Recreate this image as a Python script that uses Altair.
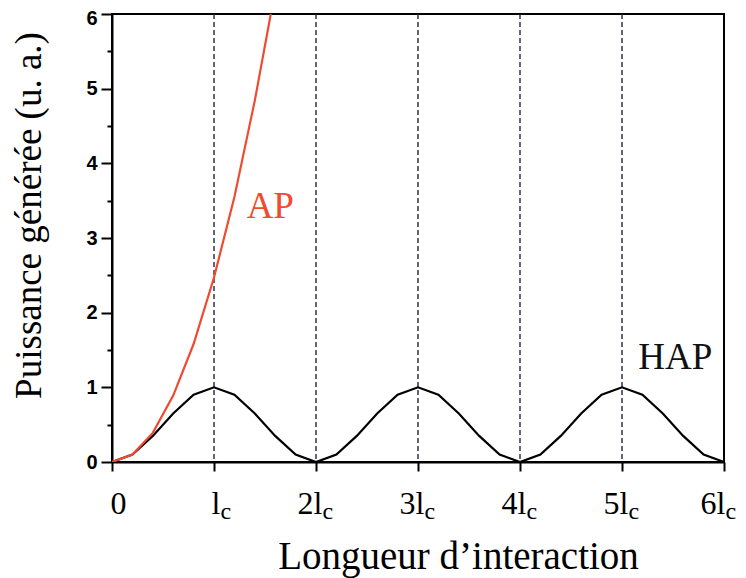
import altair as alt
import pandas as pd

# ---- data ----
hap_x = [0.0, 0.2, 0.4, 0.6, 0.8, 1.0, 1.2, 1.4, 1.6, 1.8, 2.0,
         2.2, 2.4, 2.6, 2.8, 3.0, 3.2, 3.4, 3.6, 3.8, 4.0,
         4.2, 4.4, 4.6, 4.8, 5.0, 5.2, 5.4, 5.6, 5.8, 6.0]
hap_y = [0.0, 0.1, 0.35, 0.65, 0.9, 1.0, 0.9, 0.65, 0.35, 0.1, 0.0,
         0.1, 0.35, 0.65, 0.9, 1.0, 0.9, 0.65, 0.35, 0.1, 0.0,
         0.1, 0.35, 0.65, 0.9, 1.0, 0.9, 0.65, 0.35, 0.1, 0.0]

ap_x = [0.0, 0.2, 0.4, 0.6, 0.8, 1.0, 1.2, 1.4, 1.6]
ap_y = [0.0, 0.1, 0.39, 0.89, 1.58, 2.47, 3.55, 4.84, 6.32]

coherence_x = [1, 2, 3, 4, 5]

x_tick_values = [0, 1, 2, 3, 4, 5, 6]
x_main_labels = ["0", "l", "2l", "3l", "4l", "5l", "6l"]
x_sub_labels = ["", "c", "c", "c", "c", "c", "c"]
y_major = [0, 1, 2, 3, 4, 5, 6]
y_major_labels = ["0", "1", "2", "3", "4", "5", "6"]
y_minor = [0.5, 1.5, 2.5, 3.5, 4.5, 5.5]

note_text = ["AP", "HAP"]
note_x = [1.32, 5.16]
note_y = [3.27, 1.245]
note_color = ["#f04a30", "#111111"]

RED = "#f04a30"
SERIF = "Liberation Serif"

df_hap = pd.DataFrame({"x": hap_x, "y": hap_y})
df_ap = pd.DataFrame({"x": ap_x, "y": ap_y})
df_rules = pd.DataFrame({"x": coherence_x})
df_notes = pd.DataFrame({"x": note_x, "y": note_y, "t": note_text, "c": note_color})


def arr_expr(labels):
    return "[" + ",".join("'" + s + "'" for s in labels) + "][round(datum.value)]"


def xs():
    return alt.Scale(domain=[0, 6], nice=False, zero=False)


def ys():
    return alt.Scale(domain=[0, 6], nice=False)


x_label_shift = alt.condition("datum.value == 6", alt.value(1), alt.value(6))

hap = alt.Chart(df_hap).mark_line(color="black", strokeWidth=2.2).encode(
    x=alt.X("x:Q", scale=xs(), axis=alt.Axis(
        orient="bottom", values=x_tick_values, labelExpr=arr_expr(x_main_labels),
        labelFont=SERIF, labelFontSize=32, labelColor="black",
        labelAlign=alt.condition("datum.value == 0", alt.value("center"), alt.value("right")),
        labelOffset=x_label_shift, labelBaseline="alphabetic", labelPadding=42,
        labelFlush=False, labelOverlap=False, labelBound=False,
        tickSize=9, tickWidth=2, tickColor="black",
        domainColor="black", domainWidth=2, grid=False,
        title="Longueur d’interaction", titleFont=SERIF, titleFontSize=39,
        titleFontWeight="normal", titleColor="black",
        titleX=346, titleY=106, titleBaseline="alphabetic")),
    y=alt.Y("y:Q", scale=ys(), axis=alt.Axis(
        orient="left", values=y_major, labelExpr=arr_expr(y_major_labels),
        labelFont="Liberation Sans", labelFontWeight="bold", labelFontSize=20,
        labelColor="black", labelPadding=4, labelFlush=False, labelBaseline="middle",
        labelOffset=alt.condition("datum.value == 6", alt.value(4), alt.value(0)),
        labelOverlap=False, labelBound=False,
        tickSize=11, tickWidth=2, tickColor="black",
        domainColor="black", domainWidth=2, grid=False,
        title="Puissance générée (u. a.)", titleFont=SERIF, titleFontSize=37,
        titleFontWeight="normal", titleColor="black",
        titleX=-72, titleY=201, titleBaseline="alphabetic")),
)

ap = alt.Chart(df_ap).mark_line(color=RED, strokeWidth=2.2, clip=True).encode(
    x=alt.X("x:Q", scale=xs(), axis=alt.Axis(
        orient="bottom", values=x_tick_values, labelExpr=arr_expr(x_sub_labels),
        labelFont=SERIF, labelFontSize=24, labelColor="black",
        labelAlign="left", labelOffset=x_label_shift, labelBaseline="alphabetic", labelPadding=56,
        labelFlush=False, labelOverlap=False, labelBound=False,
        ticks=False, tickSize=0, domain=False, grid=False, title=None)),
    y=alt.Y("y:Q", scale=ys(), axis=alt.Axis(
        orient="left", values=y_minor, labels=False, domain=False, grid=False,
        tickSize=5, tickWidth=2, tickColor="black", title=None)),
)

rules = alt.Chart(df_rules).mark_rule(color="#22263a", strokeWidth=1.4, strokeDash=[5, 3]).encode(
    x=alt.X("x:Q", scale=xs(), axis=None),
)

notes = alt.Chart(df_notes).mark_text(font=SERIF, fontSize=37, align="left", baseline="alphabetic").encode(
    x=alt.X("x:Q", scale=xs(), axis=None),
    y=alt.Y("y:Q", scale=ys(), axis=None),
    text="t:N",
    color=alt.Color("c:N", scale=None),
)

chart = alt.layer(rules, hap, ap, notes).resolve_scale(
    x="independent", y="independent"
).properties(
    width=612, height=448,
    autosize=alt.AutoSizeParams(type="none"),
    padding={"left": 104, "top": 6, "right": 14, "bottom": 116},
).configure_view(
    stroke="black", strokeWidth=2
).configure_axisLeft(
    labelFont="Liberation Sans", labelFontWeight="bold", labelFontSize=20
)

chart.save("out.html", embed_options={"renderer": "svg", "actions": False})
